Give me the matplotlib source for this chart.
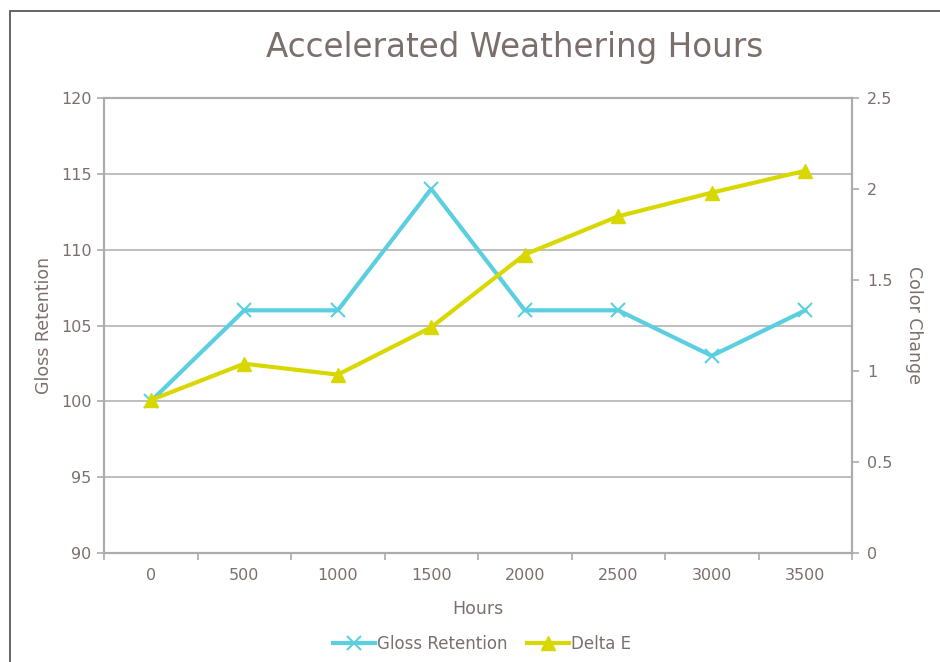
import matplotlib
matplotlib.use("Agg")
import matplotlib.pyplot as plt
from matplotlib.patches import Rectangle
from matplotlib.lines import Line2D

hours = ["0", "500", "1000", "1500", "2000", "2500", "3000", "3500"]
gloss_retention = [100, 106, 106, 114, 106, 106, 103, 106]
delta_e = [0.84, 1.04, 0.98, 1.24, 1.64, 1.85, 1.98, 2.10]
left_ticks = [90, 95, 100, 105, 110, 115, 120]
right_ticks = [0, 0.5, 1, 1.5, 2, 2.5]
right_labels = ["0", "0.5", "1", "1.5", "2", "2.5"]

TXT = "#7b6f6b"
GRID = "#acacb0"
CYAN = "#5bcfe0"
YEL = "#d8d800"

plt.rcParams['font.family'] = ['DejaVu Sans']

fig = plt.figure(figsize=(9.4, 6.62), dpi=100)
W, H = 940, 662
fig.patches.append(Rectangle((9.5 / W, -0.1), 1.2, (H - 10.5) / H + 0.1,
                             transform=fig.transFigure, fill=False,
                             edgecolor="#595959", linewidth=1.3))

ax = fig.add_axes([104 / W, (H - 553) / H, 748 / W, 455 / H])
x = list(range(len(hours)))

ax.set_ylim(90, 120)
ax.set_yticks(left_ticks)
ax.set_yticklabels([str(v) for v in left_ticks])
ax.set_xlim(-0.5, len(hours) - 0.5)
ax.set_xticks([i - 0.5 for i in range(len(hours) + 1)])
ax.set_xticklabels([])
ax.set_xticks(x, minor=True)
ax.set_xticklabels(hours, minor=True)
ax.tick_params(axis='x', which='major', length=5, color=GRID, width=1.2, direction='out')
ax.tick_params(axis='x', which='minor', length=0, pad=11, labelsize=11.5, labelcolor=TXT)
ax.tick_params(axis='y', length=5, color=GRID, width=1.2, labelsize=11.5, labelcolor=TXT, pad=4)
ax.grid(axis='y', color=GRID, linewidth=1.1)
ax.set_axisbelow(True)
for s in ['left', 'bottom', 'right', 'top']:
    ax.spines[s].set_color(GRID)
    ax.spines[s].set_linewidth(1.5)

ax2 = ax.twinx()
ax2.set_ylim(0, 2.5)
ax2.set_yticks(right_ticks)
ax2.set_yticklabels(right_labels)
ax2.tick_params(axis='y', length=5, color=GRID, width=1.2, labelsize=11.5, labelcolor=TXT, pad=6)
for s in ['left', 'bottom', 'right', 'top']:
    ax2.spines[s].set_color(GRID)
    ax2.spines[s].set_linewidth(1.5)

ax.plot(x, gloss_retention, color=CYAN, linewidth=3, marker='x', markersize=10,
        markeredgewidth=1.5, zorder=3, clip_on=False)
ax2.plot(x, delta_e, color=YEL, linewidth=3, marker='^', markersize=10,
         zorder=3, clip_on=False)

ax.set_ylabel("Gloss Retention", color=TXT, fontsize=12.5, labelpad=6)
ax2.set_ylabel("Color Change", color=TXT, fontsize=12.5, rotation=270, labelpad=22)
ax.set_xlabel("Hours", color=TXT, fontsize=12.5, labelpad=12)

fig.text(515 / W, 1 - 48 / H, "Accelerated Weathering Hours", ha='center', va='center',
         fontsize=23.5, color=TXT)

handles = [Line2D([], [], color=CYAN, linewidth=3, marker='x', markersize=10, markeredgewidth=1.5),
           Line2D([], [], color=YEL, linewidth=3, marker='^', markersize=10)]
fig.legend(handles, ["Gloss Retention", "Delta E"], loc='center', bbox_to_anchor=(482 / W, 1 - 644 / H),
           ncol=2, frameon=False, fontsize=12, labelcolor=TXT, handlelength=2.5,
           handletextpad=0.1, columnspacing=1.2)

fig.savefig("out.png", dpi=100)
